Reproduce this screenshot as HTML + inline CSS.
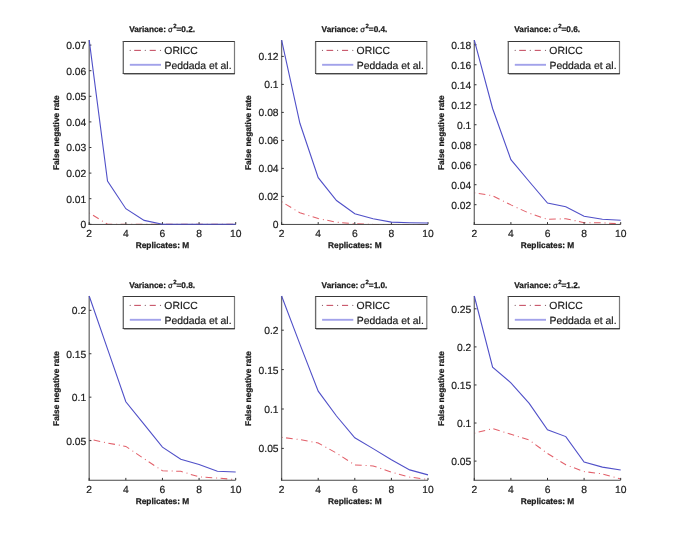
<!DOCTYPE html>
<html><head><meta charset="utf-8"><title>False negative rate vs replicates</title>
<style>
html,body{margin:0;padding:0;background:#fff;}
body{width:685px;height:540px;overflow:hidden;}
svg{display:block;font-family:"Liberation Sans", sans-serif;text-rendering:geometricPrecision;will-change:transform;filter:blur(0.3px);}
</style></head>
<body>
<svg width="685" height="540" viewBox="0 0 685 540">
<rect width="685" height="540" fill="#fff"/>
<g><polyline points="89.2,212.9 107.51,224.3 125.83,224.3 144.14,224.3 162.45,224.3 180.76,224.3 199.07,224.3 217.39,224.3 235.7,224.3" fill="none" stroke="#e2606a" stroke-width="1.05" stroke-dasharray="1 3.5 6.7 3.9"/>
<path d="M89.2 40.1V224.9" fill="none" stroke="#6e6e6e" stroke-width="1.3"/>
<path d="M88.6 224.45H235.7" fill="none" stroke="#484848" stroke-width="1.0"/>
<path d="M89.2 224.3h2.2M89.2 198.7h2.2M89.2 173.1h2.2M89.2 147.5h2.2M89.2 121.9h2.2M89.2 96.3h2.2M89.2 70.7h2.2M89.2 45.1h2.2M89.2 224.3v-2.2M125.83 224.3v-2.2M162.45 224.3v-2.2M199.07 224.3v-2.2M235.7 224.3v-2.2" stroke="#333" stroke-width="1"/>
<text transform="translate(86.2,228.25)" font-size="10.3" stroke="#1a1a1a" stroke-width="0.2" text-anchor="end" fill="#1a1a1a">0</text>
<text transform="translate(86.2,202.65)" font-size="10.3" stroke="#1a1a1a" stroke-width="0.2" text-anchor="end" fill="#1a1a1a">0.01</text>
<text transform="translate(86.2,177.05)" font-size="10.3" stroke="#1a1a1a" stroke-width="0.2" text-anchor="end" fill="#1a1a1a">0.02</text>
<text transform="translate(86.2,151.45)" font-size="10.3" stroke="#1a1a1a" stroke-width="0.2" text-anchor="end" fill="#1a1a1a">0.03</text>
<text transform="translate(86.2,125.85)" font-size="10.3" stroke="#1a1a1a" stroke-width="0.2" text-anchor="end" fill="#1a1a1a">0.04</text>
<text transform="translate(86.2,100.25)" font-size="10.3" stroke="#1a1a1a" stroke-width="0.2" text-anchor="end" fill="#1a1a1a">0.05</text>
<text transform="translate(86.2,74.65)" font-size="10.3" stroke="#1a1a1a" stroke-width="0.2" text-anchor="end" fill="#1a1a1a">0.06</text>
<text transform="translate(86.2,49.05)" font-size="10.3" stroke="#1a1a1a" stroke-width="0.2" text-anchor="end" fill="#1a1a1a">0.07</text>
<text transform="translate(89.2,236.7)" font-size="10.3" stroke="#1a1a1a" stroke-width="0.2" text-anchor="middle" fill="#1a1a1a">2</text>
<text transform="translate(125.83,236.7)" font-size="10.3" stroke="#1a1a1a" stroke-width="0.2" text-anchor="middle" fill="#1a1a1a">4</text>
<text transform="translate(162.45,236.7)" font-size="10.3" stroke="#1a1a1a" stroke-width="0.2" text-anchor="middle" fill="#1a1a1a">6</text>
<text transform="translate(199.07,236.7)" font-size="10.3" stroke="#1a1a1a" stroke-width="0.2" text-anchor="middle" fill="#1a1a1a">8</text>
<text transform="translate(235.7,236.7)" font-size="10.3" stroke="#1a1a1a" stroke-width="0.2" text-anchor="middle" fill="#1a1a1a">10</text>
<polyline points="89.2,40.1 107.51,181 125.83,208.7 144.14,220.4 162.45,224.3 180.76,224.3 199.07,224.3 217.39,224.3 235.7,224.3" fill="none" stroke="#5050c8" stroke-width="1.1"/>
<text transform="translate(162.15,31.8)" font-size="8.25" font-weight="bold" stroke="#1a1a1a" stroke-width="0.25" text-anchor="middle" fill="#1a1a1a">Variance: <tspan dx="-0.3" font-weight="normal" font-size="7.7">&#963;</tspan><tspan dx="0.5" dy="-4.1" font-size="6">2</tspan><tspan dy="4.1">=0.2.</tspan></text>
<text transform="translate(162.45,247.9)" font-size="8.3" font-weight="bold" stroke="#1a1a1a" stroke-width="0.25" text-anchor="middle" fill="#1a1a1a">Replicates: M</text>
<text transform="translate(58.5,132.7) rotate(-90)" font-size="8.3" font-weight="bold" stroke="#1a1a1a" stroke-width="0.25" text-anchor="middle" fill="#1a1a1a">False negative rate</text>
<rect x="123.3" y="41.5" width="111.2" height="32" fill="#fff"/>
<path d="M122.7 41.5H235" stroke="#383838" stroke-width="1"/>
<path d="M123.3 41.5V73.5" stroke="#6a6a6a" stroke-width="1.35"/>
<path d="M234.5 41.5V73.5" stroke="#7a7a7a" stroke-width="1.2"/>
<path d="M122.7 73.5H235" stroke="#404040" stroke-width="1"/>
<path d="M123.8 74.45H234.8" stroke="#a0a0a0" stroke-width="0.9"/>
<circle cx="130.2" cy="50.4" r="0.6" fill="#8a6a72"/>
<circle cx="145.3" cy="50.4" r="0.6" fill="#8a6a72"/>
<circle cx="160.5" cy="50.4" r="0.6" fill="#8a6a72"/>
<path d="M134.2 50.4H140.9" stroke="#c85468" stroke-width="1.1"/>
<path d="M149.7 50.4H155.8" stroke="#c85468" stroke-width="1.1"/>
<path d="M129.8 64.8H161" stroke="#a2a2ea" stroke-width="1.9"/>
<text transform="translate(164.3,54)" font-size="10.4" stroke="#1a1a1a" stroke-width="0.2" text-anchor="start" fill="#1a1a1a">ORICC</text>
<text transform="translate(164.5,68.7)" font-size="10.4" stroke="#1a1a1a" stroke-width="0.2" text-anchor="start" fill="#1a1a1a">Peddada et al.</text></g>
<g><polyline points="281.6,201.8 299.9,212.8 318.2,218.5 336.5,222.2 354.8,223.8 373.1,224.4 391.4,224.4 409.7,224.4 428,224.4" fill="none" stroke="#e2606a" stroke-width="1.05" stroke-dasharray="1 3.5 6.7 3.9"/>
<path d="M281.6 40.1V224.9" fill="none" stroke="#6e6e6e" stroke-width="1.3"/>
<path d="M281 224.45H428" fill="none" stroke="#484848" stroke-width="1.0"/>
<path d="M281.6 224.4h2.2M281.6 196.4h2.2M281.6 168.4h2.2M281.6 140.4h2.2M281.6 112.4h2.2M281.6 84.4h2.2M281.6 56.4h2.2M281.6 224.3v-2.2M318.2 224.3v-2.2M354.8 224.3v-2.2M391.4 224.3v-2.2M428 224.3v-2.2" stroke="#333" stroke-width="1"/>
<text transform="translate(278.6,228.35)" font-size="10.3" stroke="#1a1a1a" stroke-width="0.2" text-anchor="end" fill="#1a1a1a">0</text>
<text transform="translate(278.6,200.35)" font-size="10.3" stroke="#1a1a1a" stroke-width="0.2" text-anchor="end" fill="#1a1a1a">0.02</text>
<text transform="translate(278.6,172.35)" font-size="10.3" stroke="#1a1a1a" stroke-width="0.2" text-anchor="end" fill="#1a1a1a">0.04</text>
<text transform="translate(278.6,144.35)" font-size="10.3" stroke="#1a1a1a" stroke-width="0.2" text-anchor="end" fill="#1a1a1a">0.06</text>
<text transform="translate(278.6,116.35)" font-size="10.3" stroke="#1a1a1a" stroke-width="0.2" text-anchor="end" fill="#1a1a1a">0.08</text>
<text transform="translate(278.6,88.35)" font-size="10.3" stroke="#1a1a1a" stroke-width="0.2" text-anchor="end" fill="#1a1a1a">0.1</text>
<text transform="translate(278.6,60.35)" font-size="10.3" stroke="#1a1a1a" stroke-width="0.2" text-anchor="end" fill="#1a1a1a">0.12</text>
<text transform="translate(281.6,236.7)" font-size="10.3" stroke="#1a1a1a" stroke-width="0.2" text-anchor="middle" fill="#1a1a1a">2</text>
<text transform="translate(318.2,236.7)" font-size="10.3" stroke="#1a1a1a" stroke-width="0.2" text-anchor="middle" fill="#1a1a1a">4</text>
<text transform="translate(354.8,236.7)" font-size="10.3" stroke="#1a1a1a" stroke-width="0.2" text-anchor="middle" fill="#1a1a1a">6</text>
<text transform="translate(391.4,236.7)" font-size="10.3" stroke="#1a1a1a" stroke-width="0.2" text-anchor="middle" fill="#1a1a1a">8</text>
<text transform="translate(428,236.7)" font-size="10.3" stroke="#1a1a1a" stroke-width="0.2" text-anchor="middle" fill="#1a1a1a">10</text>
<polyline points="281.6,40.1 299.9,123.3 318.2,177.7 336.5,200.5 354.8,213.8 373.1,218.7 391.4,222.1 409.7,222.7 428,223" fill="none" stroke="#5050c8" stroke-width="1.1"/>
<text transform="translate(354.5,31.8)" font-size="8.25" font-weight="bold" stroke="#1a1a1a" stroke-width="0.25" text-anchor="middle" fill="#1a1a1a">Variance: <tspan dx="-0.3" font-weight="normal" font-size="7.7">&#963;</tspan><tspan dx="0.5" dy="-4.1" font-size="6">2</tspan><tspan dy="4.1">=0.4.</tspan></text>
<text transform="translate(354.8,247.9)" font-size="8.3" font-weight="bold" stroke="#1a1a1a" stroke-width="0.25" text-anchor="middle" fill="#1a1a1a">Replicates: M</text>
<text transform="translate(250.9,132.7) rotate(-90)" font-size="8.3" font-weight="bold" stroke="#1a1a1a" stroke-width="0.25" text-anchor="middle" fill="#1a1a1a">False negative rate</text>
<rect x="315.6" y="41.5" width="111.2" height="32" fill="#fff"/>
<path d="M315 41.5H427.3" stroke="#383838" stroke-width="1"/>
<path d="M315.6 41.5V73.5" stroke="#6a6a6a" stroke-width="1.35"/>
<path d="M426.8 41.5V73.5" stroke="#7a7a7a" stroke-width="1.2"/>
<path d="M315 73.5H427.3" stroke="#404040" stroke-width="1"/>
<path d="M316.1 74.45H427.1" stroke="#a0a0a0" stroke-width="0.9"/>
<circle cx="322.5" cy="50.4" r="0.6" fill="#8a6a72"/>
<circle cx="337.6" cy="50.4" r="0.6" fill="#8a6a72"/>
<circle cx="352.8" cy="50.4" r="0.6" fill="#8a6a72"/>
<path d="M326.5 50.4H333.2" stroke="#c85468" stroke-width="1.1"/>
<path d="M342 50.4H348.1" stroke="#c85468" stroke-width="1.1"/>
<path d="M322.1 64.8H353.3" stroke="#a2a2ea" stroke-width="1.9"/>
<text transform="translate(356.6,54)" font-size="10.4" stroke="#1a1a1a" stroke-width="0.2" text-anchor="start" fill="#1a1a1a">ORICC</text>
<text transform="translate(356.8,68.7)" font-size="10.4" stroke="#1a1a1a" stroke-width="0.2" text-anchor="start" fill="#1a1a1a">Peddada et al.</text></g>
<g><polyline points="474.3,192.8 492.6,195.7 510.9,204.9 529.2,213.2 547.5,219.3 565.8,218.7 584.1,222.7 602.4,222.7 620.7,224" fill="none" stroke="#e2606a" stroke-width="1.05" stroke-dasharray="1 3.5 6.7 3.9"/>
<path d="M474.3 40.1V224.9" fill="none" stroke="#6e6e6e" stroke-width="1.3"/>
<path d="M473.7 224.45H620.7" fill="none" stroke="#484848" stroke-width="1.0"/>
<path d="M474.3 204.7h2.2M474.3 184.71h2.2M474.3 164.72h2.2M474.3 144.73h2.2M474.3 124.74h2.2M474.3 104.75h2.2M474.3 84.76h2.2M474.3 64.77h2.2M474.3 44.78h2.2M474.3 224.3v-2.2M510.9 224.3v-2.2M547.5 224.3v-2.2M584.1 224.3v-2.2M620.7 224.3v-2.2" stroke="#333" stroke-width="1"/>
<text transform="translate(471.3,208.65)" font-size="10.3" stroke="#1a1a1a" stroke-width="0.2" text-anchor="end" fill="#1a1a1a">0.02</text>
<text transform="translate(471.3,188.66)" font-size="10.3" stroke="#1a1a1a" stroke-width="0.2" text-anchor="end" fill="#1a1a1a">0.04</text>
<text transform="translate(471.3,168.67)" font-size="10.3" stroke="#1a1a1a" stroke-width="0.2" text-anchor="end" fill="#1a1a1a">0.06</text>
<text transform="translate(471.3,148.68)" font-size="10.3" stroke="#1a1a1a" stroke-width="0.2" text-anchor="end" fill="#1a1a1a">0.08</text>
<text transform="translate(471.3,128.69)" font-size="10.3" stroke="#1a1a1a" stroke-width="0.2" text-anchor="end" fill="#1a1a1a">0.1</text>
<text transform="translate(471.3,108.7)" font-size="10.3" stroke="#1a1a1a" stroke-width="0.2" text-anchor="end" fill="#1a1a1a">0.12</text>
<text transform="translate(471.3,88.71)" font-size="10.3" stroke="#1a1a1a" stroke-width="0.2" text-anchor="end" fill="#1a1a1a">0.14</text>
<text transform="translate(471.3,68.72)" font-size="10.3" stroke="#1a1a1a" stroke-width="0.2" text-anchor="end" fill="#1a1a1a">0.16</text>
<text transform="translate(471.3,48.73)" font-size="10.3" stroke="#1a1a1a" stroke-width="0.2" text-anchor="end" fill="#1a1a1a">0.18</text>
<text transform="translate(474.3,236.7)" font-size="10.3" stroke="#1a1a1a" stroke-width="0.2" text-anchor="middle" fill="#1a1a1a">2</text>
<text transform="translate(510.9,236.7)" font-size="10.3" stroke="#1a1a1a" stroke-width="0.2" text-anchor="middle" fill="#1a1a1a">4</text>
<text transform="translate(547.5,236.7)" font-size="10.3" stroke="#1a1a1a" stroke-width="0.2" text-anchor="middle" fill="#1a1a1a">6</text>
<text transform="translate(584.1,236.7)" font-size="10.3" stroke="#1a1a1a" stroke-width="0.2" text-anchor="middle" fill="#1a1a1a">8</text>
<text transform="translate(620.7,236.7)" font-size="10.3" stroke="#1a1a1a" stroke-width="0.2" text-anchor="middle" fill="#1a1a1a">10</text>
<polyline points="474.3,40.1 492.6,108.5 510.9,159.6 529.2,181.5 547.5,203.1 565.8,206.7 584.1,216.2 602.4,219.2 620.7,220.3" fill="none" stroke="#5050c8" stroke-width="1.1"/>
<text transform="translate(547.2,31.8)" font-size="8.25" font-weight="bold" stroke="#1a1a1a" stroke-width="0.25" text-anchor="middle" fill="#1a1a1a">Variance: <tspan dx="-0.3" font-weight="normal" font-size="7.7">&#963;</tspan><tspan dx="0.5" dy="-4.1" font-size="6">2</tspan><tspan dy="4.1">=0.6.</tspan></text>
<text transform="translate(547.5,247.9)" font-size="8.3" font-weight="bold" stroke="#1a1a1a" stroke-width="0.25" text-anchor="middle" fill="#1a1a1a">Replicates: M</text>
<text transform="translate(443.6,132.7) rotate(-90)" font-size="8.3" font-weight="bold" stroke="#1a1a1a" stroke-width="0.25" text-anchor="middle" fill="#1a1a1a">False negative rate</text>
<rect x="508.3" y="41.5" width="111.2" height="32" fill="#fff"/>
<path d="M507.7 41.5H620" stroke="#383838" stroke-width="1"/>
<path d="M508.3 41.5V73.5" stroke="#6a6a6a" stroke-width="1.35"/>
<path d="M619.5 41.5V73.5" stroke="#7a7a7a" stroke-width="1.2"/>
<path d="M507.7 73.5H620" stroke="#404040" stroke-width="1"/>
<path d="M508.8 74.45H619.8" stroke="#a0a0a0" stroke-width="0.9"/>
<circle cx="515.2" cy="50.4" r="0.6" fill="#8a6a72"/>
<circle cx="530.3" cy="50.4" r="0.6" fill="#8a6a72"/>
<circle cx="545.5" cy="50.4" r="0.6" fill="#8a6a72"/>
<path d="M519.2 50.4H525.9" stroke="#c85468" stroke-width="1.1"/>
<path d="M534.7 50.4H540.8" stroke="#c85468" stroke-width="1.1"/>
<path d="M514.8 64.8H546" stroke="#a2a2ea" stroke-width="1.9"/>
<text transform="translate(549.3,54)" font-size="10.4" stroke="#1a1a1a" stroke-width="0.2" text-anchor="start" fill="#1a1a1a">ORICC</text>
<text transform="translate(549.5,68.7)" font-size="10.4" stroke="#1a1a1a" stroke-width="0.2" text-anchor="start" fill="#1a1a1a">Peddada et al.</text></g>
<g><polyline points="89.2,439.1 107.51,443 125.83,446.4 144.14,458.8 162.45,470.8 180.76,471.3 199.07,476.9 217.39,478 235.7,479.6" fill="none" stroke="#e2606a" stroke-width="1.05" stroke-dasharray="1 3.5 6.7 3.9"/>
<path d="M89.2 296V480.7" fill="none" stroke="#6e6e6e" stroke-width="1.3"/>
<path d="M88.6 480.25H235.7" fill="none" stroke="#484848" stroke-width="1.0"/>
<path d="M89.2 440.6h2.2M89.2 397.17h2.2M89.2 353.74h2.2M89.2 310.3h2.2M89.2 480.1v-2.2M125.83 480.1v-2.2M162.45 480.1v-2.2M199.07 480.1v-2.2M235.7 480.1v-2.2" stroke="#333" stroke-width="1"/>
<text transform="translate(86.2,444.55)" font-size="10.3" stroke="#1a1a1a" stroke-width="0.2" text-anchor="end" fill="#1a1a1a">0.05</text>
<text transform="translate(86.2,401.12)" font-size="10.3" stroke="#1a1a1a" stroke-width="0.2" text-anchor="end" fill="#1a1a1a">0.1</text>
<text transform="translate(86.2,357.69)" font-size="10.3" stroke="#1a1a1a" stroke-width="0.2" text-anchor="end" fill="#1a1a1a">0.15</text>
<text transform="translate(86.2,314.25)" font-size="10.3" stroke="#1a1a1a" stroke-width="0.2" text-anchor="end" fill="#1a1a1a">0.2</text>
<text transform="translate(89.2,492.5)" font-size="10.3" stroke="#1a1a1a" stroke-width="0.2" text-anchor="middle" fill="#1a1a1a">2</text>
<text transform="translate(125.83,492.5)" font-size="10.3" stroke="#1a1a1a" stroke-width="0.2" text-anchor="middle" fill="#1a1a1a">4</text>
<text transform="translate(162.45,492.5)" font-size="10.3" stroke="#1a1a1a" stroke-width="0.2" text-anchor="middle" fill="#1a1a1a">6</text>
<text transform="translate(199.07,492.5)" font-size="10.3" stroke="#1a1a1a" stroke-width="0.2" text-anchor="middle" fill="#1a1a1a">8</text>
<text transform="translate(235.7,492.5)" font-size="10.3" stroke="#1a1a1a" stroke-width="0.2" text-anchor="middle" fill="#1a1a1a">10</text>
<polyline points="89.2,296 107.51,348.9 125.83,401.8 144.14,424.4 162.45,447.1 180.76,459.3 199.07,464.5 217.39,471.3 235.7,472" fill="none" stroke="#5050c8" stroke-width="1.1"/>
<text transform="translate(162.15,287.7)" font-size="8.25" font-weight="bold" stroke="#1a1a1a" stroke-width="0.25" text-anchor="middle" fill="#1a1a1a">Variance: <tspan dx="-0.3" font-weight="normal" font-size="7.7">&#963;</tspan><tspan dx="0.5" dy="-4.1" font-size="6">2</tspan><tspan dy="4.1">=0.8.</tspan></text>
<text transform="translate(162.45,503.7)" font-size="8.3" font-weight="bold" stroke="#1a1a1a" stroke-width="0.25" text-anchor="middle" fill="#1a1a1a">Replicates: M</text>
<text transform="translate(58.5,388.55) rotate(-90)" font-size="8.3" font-weight="bold" stroke="#1a1a1a" stroke-width="0.25" text-anchor="middle" fill="#1a1a1a">False negative rate</text>
<rect x="123.3" y="296.5" width="111.2" height="32" fill="#fff"/>
<path d="M122.7 296.5H235" stroke="#383838" stroke-width="1"/>
<path d="M123.3 296.5V328.5" stroke="#6a6a6a" stroke-width="1.35"/>
<path d="M234.5 296.5V328.5" stroke="#7a7a7a" stroke-width="1.2"/>
<path d="M122.7 328.5H235" stroke="#404040" stroke-width="1"/>
<path d="M123.8 329.45H234.8" stroke="#a0a0a0" stroke-width="0.9"/>
<circle cx="130.2" cy="305.4" r="0.6" fill="#8a6a72"/>
<circle cx="145.3" cy="305.4" r="0.6" fill="#8a6a72"/>
<circle cx="160.5" cy="305.4" r="0.6" fill="#8a6a72"/>
<path d="M134.2 305.4H140.9" stroke="#c85468" stroke-width="1.1"/>
<path d="M149.7 305.4H155.8" stroke="#c85468" stroke-width="1.1"/>
<path d="M129.8 319.8H161" stroke="#a2a2ea" stroke-width="1.9"/>
<text transform="translate(164.3,309)" font-size="10.4" stroke="#1a1a1a" stroke-width="0.2" text-anchor="start" fill="#1a1a1a">ORICC</text>
<text transform="translate(164.5,323.7)" font-size="10.4" stroke="#1a1a1a" stroke-width="0.2" text-anchor="start" fill="#1a1a1a">Peddada et al.</text></g>
<g><polyline points="281.6,437.3 299.9,439.6 318.2,443 336.5,453.1 354.8,465 373.1,465.9 391.4,472.2 409.7,477.1 428,479.4" fill="none" stroke="#e2606a" stroke-width="1.05" stroke-dasharray="1 3.5 6.7 3.9"/>
<path d="M281.6 296V480.7" fill="none" stroke="#6e6e6e" stroke-width="1.3"/>
<path d="M281 480.25H428" fill="none" stroke="#484848" stroke-width="1.0"/>
<path d="M281.6 448.4h2.2M281.6 409h2.2M281.6 369.6h2.2M281.6 330.2h2.2M281.6 480.1v-2.2M318.2 480.1v-2.2M354.8 480.1v-2.2M391.4 480.1v-2.2M428 480.1v-2.2" stroke="#333" stroke-width="1"/>
<text transform="translate(278.6,452.35)" font-size="10.3" stroke="#1a1a1a" stroke-width="0.2" text-anchor="end" fill="#1a1a1a">0.05</text>
<text transform="translate(278.6,412.95)" font-size="10.3" stroke="#1a1a1a" stroke-width="0.2" text-anchor="end" fill="#1a1a1a">0.1</text>
<text transform="translate(278.6,373.55)" font-size="10.3" stroke="#1a1a1a" stroke-width="0.2" text-anchor="end" fill="#1a1a1a">0.15</text>
<text transform="translate(278.6,334.15)" font-size="10.3" stroke="#1a1a1a" stroke-width="0.2" text-anchor="end" fill="#1a1a1a">0.2</text>
<text transform="translate(281.6,492.5)" font-size="10.3" stroke="#1a1a1a" stroke-width="0.2" text-anchor="middle" fill="#1a1a1a">2</text>
<text transform="translate(318.2,492.5)" font-size="10.3" stroke="#1a1a1a" stroke-width="0.2" text-anchor="middle" fill="#1a1a1a">4</text>
<text transform="translate(354.8,492.5)" font-size="10.3" stroke="#1a1a1a" stroke-width="0.2" text-anchor="middle" fill="#1a1a1a">6</text>
<text transform="translate(391.4,492.5)" font-size="10.3" stroke="#1a1a1a" stroke-width="0.2" text-anchor="middle" fill="#1a1a1a">8</text>
<text transform="translate(428,492.5)" font-size="10.3" stroke="#1a1a1a" stroke-width="0.2" text-anchor="middle" fill="#1a1a1a">10</text>
<polyline points="281.6,296 299.9,344.1 318.2,391.2 336.5,416 354.8,437.8 373.1,448.6 391.4,459.8 409.7,469.9 428,474.9" fill="none" stroke="#5050c8" stroke-width="1.1"/>
<text transform="translate(354.5,287.7)" font-size="8.25" font-weight="bold" stroke="#1a1a1a" stroke-width="0.25" text-anchor="middle" fill="#1a1a1a">Variance: <tspan dx="-0.3" font-weight="normal" font-size="7.7">&#963;</tspan><tspan dx="0.5" dy="-4.1" font-size="6">2</tspan><tspan dy="4.1">=1.0.</tspan></text>
<text transform="translate(354.8,503.7)" font-size="8.3" font-weight="bold" stroke="#1a1a1a" stroke-width="0.25" text-anchor="middle" fill="#1a1a1a">Replicates: M</text>
<text transform="translate(250.9,388.55) rotate(-90)" font-size="8.3" font-weight="bold" stroke="#1a1a1a" stroke-width="0.25" text-anchor="middle" fill="#1a1a1a">False negative rate</text>
<rect x="315.6" y="296.5" width="111.2" height="32" fill="#fff"/>
<path d="M315 296.5H427.3" stroke="#383838" stroke-width="1"/>
<path d="M315.6 296.5V328.5" stroke="#6a6a6a" stroke-width="1.35"/>
<path d="M426.8 296.5V328.5" stroke="#7a7a7a" stroke-width="1.2"/>
<path d="M315 328.5H427.3" stroke="#404040" stroke-width="1"/>
<path d="M316.1 329.45H427.1" stroke="#a0a0a0" stroke-width="0.9"/>
<circle cx="322.5" cy="305.4" r="0.6" fill="#8a6a72"/>
<circle cx="337.6" cy="305.4" r="0.6" fill="#8a6a72"/>
<circle cx="352.8" cy="305.4" r="0.6" fill="#8a6a72"/>
<path d="M326.5 305.4H333.2" stroke="#c85468" stroke-width="1.1"/>
<path d="M342 305.4H348.1" stroke="#c85468" stroke-width="1.1"/>
<path d="M322.1 319.8H353.3" stroke="#a2a2ea" stroke-width="1.9"/>
<text transform="translate(356.6,309)" font-size="10.4" stroke="#1a1a1a" stroke-width="0.2" text-anchor="start" fill="#1a1a1a">ORICC</text>
<text transform="translate(356.8,323.7)" font-size="10.4" stroke="#1a1a1a" stroke-width="0.2" text-anchor="start" fill="#1a1a1a">Peddada et al.</text></g>
<g><polyline points="474.3,433.2 492.6,428.6 510.9,434.3 529.2,440 547.5,453.5 565.8,464.8 584.1,471.6 602.4,473.9 620.7,478.9" fill="none" stroke="#e2606a" stroke-width="1.05" stroke-dasharray="1 3.5 6.7 3.9"/>
<path d="M474.3 296V480.7" fill="none" stroke="#6e6e6e" stroke-width="1.3"/>
<path d="M473.7 480.25H620.7" fill="none" stroke="#484848" stroke-width="1.0"/>
<path d="M474.3 461.1h2.2M474.3 423.03h2.2M474.3 384.96h2.2M474.3 346.9h2.2M474.3 308.8h2.2M474.3 480.1v-2.2M510.9 480.1v-2.2M547.5 480.1v-2.2M584.1 480.1v-2.2M620.7 480.1v-2.2" stroke="#333" stroke-width="1"/>
<text transform="translate(471.3,465.05)" font-size="10.3" stroke="#1a1a1a" stroke-width="0.2" text-anchor="end" fill="#1a1a1a">0.05</text>
<text transform="translate(471.3,426.98)" font-size="10.3" stroke="#1a1a1a" stroke-width="0.2" text-anchor="end" fill="#1a1a1a">0.1</text>
<text transform="translate(471.3,388.91)" font-size="10.3" stroke="#1a1a1a" stroke-width="0.2" text-anchor="end" fill="#1a1a1a">0.15</text>
<text transform="translate(471.3,350.85)" font-size="10.3" stroke="#1a1a1a" stroke-width="0.2" text-anchor="end" fill="#1a1a1a">0.2</text>
<text transform="translate(471.3,312.75)" font-size="10.3" stroke="#1a1a1a" stroke-width="0.2" text-anchor="end" fill="#1a1a1a">0.25</text>
<text transform="translate(474.3,492.5)" font-size="10.3" stroke="#1a1a1a" stroke-width="0.2" text-anchor="middle" fill="#1a1a1a">2</text>
<text transform="translate(510.9,492.5)" font-size="10.3" stroke="#1a1a1a" stroke-width="0.2" text-anchor="middle" fill="#1a1a1a">4</text>
<text transform="translate(547.5,492.5)" font-size="10.3" stroke="#1a1a1a" stroke-width="0.2" text-anchor="middle" fill="#1a1a1a">6</text>
<text transform="translate(584.1,492.5)" font-size="10.3" stroke="#1a1a1a" stroke-width="0.2" text-anchor="middle" fill="#1a1a1a">8</text>
<text transform="translate(620.7,492.5)" font-size="10.3" stroke="#1a1a1a" stroke-width="0.2" text-anchor="middle" fill="#1a1a1a">10</text>
<polyline points="474.3,296 492.6,367.2 510.9,382.8 529.2,403.4 547.5,429.8 565.8,436.6 584.1,462.1 602.4,467.1 620.7,470" fill="none" stroke="#5050c8" stroke-width="1.1"/>
<text transform="translate(547.2,287.7)" font-size="8.25" font-weight="bold" stroke="#1a1a1a" stroke-width="0.25" text-anchor="middle" fill="#1a1a1a">Variance: <tspan dx="-0.3" font-weight="normal" font-size="7.7">&#963;</tspan><tspan dx="0.5" dy="-4.1" font-size="6">2</tspan><tspan dy="4.1">=1.2.</tspan></text>
<text transform="translate(547.5,503.7)" font-size="8.3" font-weight="bold" stroke="#1a1a1a" stroke-width="0.25" text-anchor="middle" fill="#1a1a1a">Replicates: M</text>
<text transform="translate(443.6,388.55) rotate(-90)" font-size="8.3" font-weight="bold" stroke="#1a1a1a" stroke-width="0.25" text-anchor="middle" fill="#1a1a1a">False negative rate</text>
<rect x="508.3" y="296.5" width="111.2" height="32" fill="#fff"/>
<path d="M507.7 296.5H620" stroke="#383838" stroke-width="1"/>
<path d="M508.3 296.5V328.5" stroke="#6a6a6a" stroke-width="1.35"/>
<path d="M619.5 296.5V328.5" stroke="#7a7a7a" stroke-width="1.2"/>
<path d="M507.7 328.5H620" stroke="#404040" stroke-width="1"/>
<path d="M508.8 329.45H619.8" stroke="#a0a0a0" stroke-width="0.9"/>
<circle cx="515.2" cy="305.4" r="0.6" fill="#8a6a72"/>
<circle cx="530.3" cy="305.4" r="0.6" fill="#8a6a72"/>
<circle cx="545.5" cy="305.4" r="0.6" fill="#8a6a72"/>
<path d="M519.2 305.4H525.9" stroke="#c85468" stroke-width="1.1"/>
<path d="M534.7 305.4H540.8" stroke="#c85468" stroke-width="1.1"/>
<path d="M514.8 319.8H546" stroke="#a2a2ea" stroke-width="1.9"/>
<text transform="translate(549.3,309)" font-size="10.4" stroke="#1a1a1a" stroke-width="0.2" text-anchor="start" fill="#1a1a1a">ORICC</text>
<text transform="translate(549.5,323.7)" font-size="10.4" stroke="#1a1a1a" stroke-width="0.2" text-anchor="start" fill="#1a1a1a">Peddada et al.</text></g>
</svg>
</body></html>
